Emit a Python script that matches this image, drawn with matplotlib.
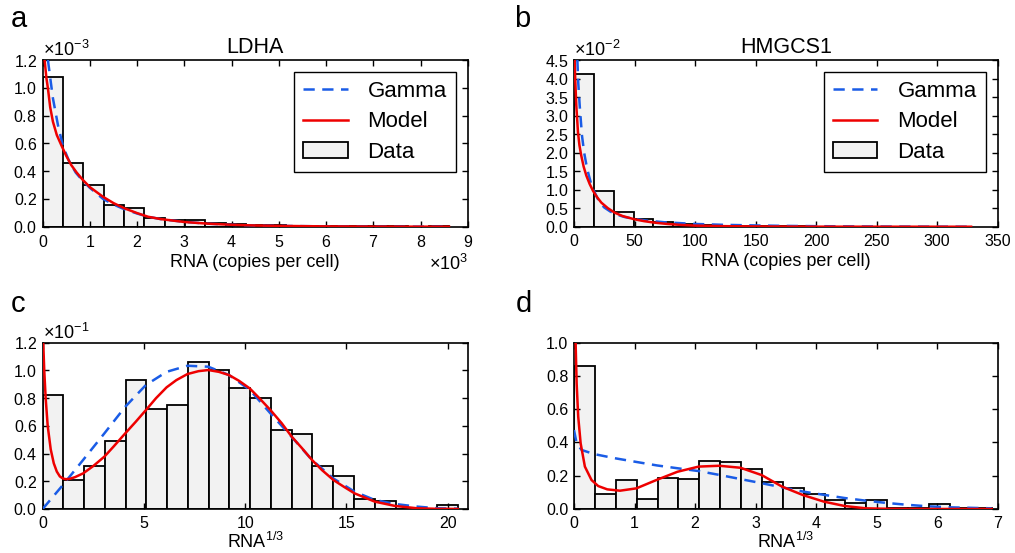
import numpy as np
import matplotlib
matplotlib.use('Agg')
import matplotlib.pyplot as plt

# ------------------------------ Style -----------------------------------
plt.rcParams['font.family'] = ['Liberation Sans', 'DejaVu Sans']
plt.rcParams['mathtext.fontset'] = 'custom'
plt.rcParams['mathtext.rm'] = 'Liberation Sans'
plt.rcParams['mathtext.default'] = 'regular'
plt.rcParams['axes.linewidth'] = 1.2
plt.rcParams['xtick.direction'] = 'in'
plt.rcParams['ytick.direction'] = 'in'
plt.rcParams['xtick.top'] = True
plt.rcParams['ytick.right'] = True
plt.rcParams['xtick.major.size'] = 4
plt.rcParams['ytick.major.size'] = 4
plt.rcParams['xtick.major.width'] = 1.0
plt.rcParams['ytick.major.width'] = 1.0
plt.rcParams['xtick.major.pad'] = 5
plt.rcParams['ytick.major.pad'] = 4
plt.rcParams['xtick.labelsize'] = 11.5
plt.rcParams['ytick.labelsize'] = 11.5

BAR_COLOR = '#f2f2f2'
GAMMA_COLOR = '#1a5ce6'
MODEL_COLOR = '#ee0000'

# ------------------------------ Data -----------------------------------
# a: LDHA, RNA copies per cell
ldha_edges = np.linspace(0, 8600, 21)
ldha_density = np.array([1.08, 0.46, 0.298, 0.158, 0.137, 0.06, 0.05, 0.05, 0.024, 0.02,
                         0.012, 0.01, 0.008, 0.004, 0.003, 0.002, 0.002, 0.002, 0.001, 0.002]) * 1e-3
ldha_gamma_x = [112, 150, 218, 324, 430, 550, 700, 850, 1000, 1280, 1500, 1735, 2000, 2230,
                2500, 3000, 3500, 4000, 4500, 5000, 6000, 7000, 8600]
ldha_gamma_y = np.array([1.2, 1.1, 0.924, 0.732, 0.58, 0.48, 0.39, 0.33, 0.28, 0.2, 0.16, 0.125,
                         0.095, 0.072, 0.055, 0.035, 0.022, 0.014, 0.009, 0.006, 0.0025, 0.001,
                         0.0002]) * 1e-3
ldha_model_x = [42, 80, 112, 160, 218, 300, 394, 500, 605, 720, 853, 1000, 1276, 1500, 1735,
                2000, 2230, 2500, 3000, 3500, 4000, 4500, 5000, 6000, 7000, 8600]
ldha_model_y = np.array([1.2, 1.07, 0.996, 0.86, 0.756, 0.66, 0.588, 0.51, 0.444, 0.39, 0.336,
                         0.285, 0.216, 0.17, 0.132, 0.098, 0.072, 0.055, 0.034, 0.022, 0.014,
                         0.009, 0.006, 0.0025, 0.001, 0.0002]) * 1e-3

# b: HMGCS1, RNA copies per cell
hmgcs1_edges = np.linspace(0, 328, 21)
hmgcs1_density = np.array([4.12, 0.97, 0.41, 0.2, 0.136, 0.065, 0.04, 0.03, 0.03, 0.02,
                           0.01, 0.01, 0.005, 0.005, 0.005, 0.003, 0.003, 0.003, 0.002, 0.003]) * 1e-2
hmgcs1_gamma_x = [2.8, 3.5, 4.7, 6.6, 8.5, 10.2, 12, 14, 16, 18.4, 21, 25, 30, 35, 42, 50, 60,
                  75, 100, 125, 150, 175, 200, 250, 300, 328]
hmgcs1_gamma_y = np.array([4.5, 3.9, 3.28, 2.46, 1.98, 1.68, 1.42, 1.18, 1.0, 0.84, 0.66, 0.52,
                           0.41, 0.33, 0.26, 0.21, 0.165, 0.12, 0.075, 0.05, 0.035, 0.022, 0.015,
                           0.006, 0.002, 0.001]) * 1e-2
hmgcs1_model_x = [0.55, 1.0, 1.9, 3.3, 4.5, 6.0, 8.0, 10.2, 13, 15.7, 19, 22.6, 28, 33.6, 40,
                  50, 58, 66.6, 77, 88, 100, 125, 150, 200, 250, 328]
hmgcs1_model_y = np.array([4.5, 4.0, 3.28, 2.55, 2.2, 1.92, 1.62, 1.38, 1.15, 0.97, 0.8, 0.65,
                           0.5, 0.38, 0.29, 0.2, 0.15, 0.11, 0.075, 0.05, 0.03, 0.015, 0.008,
                           0.002, 0.0005, 0.0]) * 1e-2

# c: LDHA, cube root of RNA
ldha_cr_edges = np.linspace(0, 20.5, 21)
ldha_cr_density = np.array([0.825, 0.207, 0.31, 0.49, 0.93, 0.72, 0.75, 1.06, 1.005, 0.875,
                            0.80, 0.57, 0.54, 0.31, 0.235, 0.075, 0.055, 0.0, 0.0, 0.03]) * 1e-1
ldha_cr_gamma_x = [0, 1, 2, 3.05, 4.08, 5.1, 6.12, 7.15, 8.18, 9.2, 10.23, 11.25, 12.3, 13.3,
                   14.36, 15.4, 16.4, 17.4, 18.5, 19.5, 20.5]
ldha_cr_gamma_y = np.array([0, 0.173, 0.354, 0.546, 0.738, 0.895, 0.99, 1.034, 1.027, 0.967,
                            0.86, 0.69, 0.52, 0.354, 0.22, 0.125, 0.065, 0.036, 0.017, 0.005,
                            0.002]) * 1e-1
ldha_cr_model_x = [0.03, 0.08, 0.15, 0.25, 0.4, 0.55, 0.7, 0.85, 1.0, 1.15, 1.35, 1.6, 2.0,
                   2.5, 3.05, 3.5, 4.08, 4.6, 5.1, 5.6, 6.12, 6.6, 7.15, 7.7, 8.18, 8.7, 9.2,
                   9.7, 10.23, 10.7, 11.25, 11.8, 12.3, 12.8, 13.3, 13.8, 14.36, 14.9, 15.4,
                   16.4, 17.4, 18.5, 19.5, 20.5]
ldha_cr_model_y = np.array([1.2, 1.0, 0.8, 0.6, 0.43, 0.33, 0.27, 0.235, 0.22, 0.215, 0.218,
                            0.23, 0.257, 0.31, 0.378, 0.45, 0.546, 0.63, 0.714, 0.8, 0.878,
                            0.93, 0.974, 0.995, 1.003, 0.99, 0.967, 0.925, 0.87, 0.8, 0.714,
                            0.62, 0.522, 0.44, 0.354, 0.28, 0.209, 0.158, 0.113, 0.053, 0.022,
                            0.005, 0.001, 0.0]) * 1e-1

# d: HMGCS1, cube root of RNA
hmgcs1_cr_edges = np.linspace(0, 6.9, 21)
hmgcs1_cr_density = [0.86, 0.088, 0.172, 0.06, 0.188, 0.18, 0.29, 0.28, 0.24, 0.165,
                     0.125, 0.09, 0.054, 0.034, 0.054, 0.005, 0.005, 0.028, 0.003, 0.005]
hmgcs1_cr_gamma_x = [0, 0.044, 0.126, 0.335, 0.68, 1.03, 1.37, 1.71, 2.06, 2.4, 2.75, 3.1,
                     3.44, 3.78, 4.13, 4.47, 4.82, 5.17, 5.51, 5.85, 6.2, 6.9]
hmgcs1_cr_gamma_y = [0.475, 0.395, 0.355, 0.33, 0.305, 0.283, 0.262, 0.245, 0.228, 0.205,
                     0.18, 0.155, 0.13, 0.105, 0.085, 0.066, 0.05, 0.036, 0.025, 0.016, 0.01,
                     0.004]
hmgcs1_cr_model_x = [0.027, 0.044, 0.07, 0.11, 0.18, 0.29, 0.4, 0.55, 0.76, 1.03, 1.36, 1.71,
                     2.06, 2.4, 2.75, 3.1, 3.44, 3.78, 4.13, 4.47, 4.82, 5.2, 6.0, 6.9]
hmgcs1_cr_model_y = [1.0, 0.755, 0.555, 0.395, 0.255, 0.174, 0.138, 0.118, 0.11, 0.124, 0.174,
                     0.224, 0.255, 0.26, 0.248, 0.204, 0.134, 0.084, 0.044, 0.018, 0.004,
                     0.001, 0.0, 0.0]


# ------------------------------ Plot helper -----------------------------------
def draw_panel(ax, edges, density, gx, gy, mx, my):
    edges = np.asarray(edges)
    bars = ax.bar(edges[:-1], density, width=np.diff(edges), align='edge',
                  color=BAR_COLOR, edgecolor='black', linewidth=1.3, label='Data', zorder=1)
    g, = ax.plot(gx, gy, color=GAMMA_COLOR, lw=1.8, linestyle=(0, (4.5, 3)), label='Gamma', zorder=3)
    m, = ax.plot(mx, my, color=MODEL_COLOR, lw=1.8, label='Model', zorder=4)
    return g, m, bars


def add_legend(ax, handles):
    ax.legend(handles=list(handles), labels=['Gamma', 'Model', 'Data'], loc='upper right',
              fontsize=16, fancybox=False, edgecolor='black', framealpha=1,
              handlelength=2.0, handletextpad=0.9, labelspacing=0.42, borderpad=0.4,
              borderaxespad=0.55)


fig = plt.figure(figsize=(10.15, 5.53), dpi=100)
ax_a = fig.add_axes([0.042, 0.590, 0.419, 0.3015])
ax_b = fig.add_axes([0.5655, 0.590, 0.4175, 0.3015])
ax_c = fig.add_axes([0.042, 0.0796, 0.419, 0.3006])
ax_d = fig.add_axes([0.5655, 0.0796, 0.4175, 0.3006])

# a
handles = draw_panel(ax_a, ldha_edges, ldha_density, ldha_gamma_x, ldha_gamma_y,
                     ldha_model_x, ldha_model_y)
ax_a.set_xlim(0, 9000)
ax_a.set_ylim(0, 1.2e-3)
ax_a.set_xticks(np.arange(0, 9001, 1000))
ax_a.set_yticks(np.arange(0, 1.21e-3, 0.2e-3))
ax_a.set_title('LDHA', fontsize=15.5, pad=5)
ax_a.set_xlabel('RNA (copies per cell)', fontsize=13, labelpad=3)
ax_a.ticklabel_format(style='sci', scilimits=(0, 0), useMathText=True)
add_legend(ax_a, handles)

# b
handles = draw_panel(ax_b, hmgcs1_edges, hmgcs1_density, hmgcs1_gamma_x, hmgcs1_gamma_y,
                     hmgcs1_model_x, hmgcs1_model_y)
ax_b.set_xlim(0, 350)
ax_b.set_ylim(0, 4.5e-2)
ax_b.set_xticks(np.arange(0, 351, 50))
ax_b.set_yticks(np.arange(0, 4.51e-2, 0.5e-2))
ax_b.set_title('HMGCS1', fontsize=15.5, pad=5)
ax_b.set_xlabel('RNA (copies per cell)', fontsize=13, labelpad=3)
ax_b.ticklabel_format(axis='y', style='sci', scilimits=(0, 0), useMathText=True)
add_legend(ax_b, handles)

# c
draw_panel(ax_c, ldha_cr_edges, ldha_cr_density, ldha_cr_gamma_x, ldha_cr_gamma_y,
           ldha_cr_model_x, ldha_cr_model_y)
ax_c.set_xlim(0, 21)
ax_c.set_ylim(0, 1.2e-1)
ax_c.set_xticks(np.arange(0, 21, 5))
ax_c.set_yticks(np.arange(0, 1.21e-1, 0.2e-1))
ax_c.set_xlabel('RNA$^{1/3}$', fontsize=13, labelpad=1)
ax_c.ticklabel_format(axis='y', style='sci', scilimits=(0, 0), useMathText=True)

# d
draw_panel(ax_d, hmgcs1_cr_edges, hmgcs1_cr_density, hmgcs1_cr_gamma_x, hmgcs1_cr_gamma_y,
           hmgcs1_cr_model_x, hmgcs1_cr_model_y)
ax_d.set_xlim(0, 7)
ax_d.set_ylim(0, 1.0)
ax_d.set_xticks(np.arange(0, 8, 1))
ax_d.set_yticks(np.arange(0, 1.01, 0.2))
ax_d.yaxis.set_major_formatter(plt.FormatStrFormatter('%.1f'))
ax_d.set_xlabel('RNA$^{1/3}$', fontsize=13, labelpad=1)

for ax in (ax_a, ax_b, ax_c, ax_d):
    ax.xaxis.get_offset_text().set_fontsize(13)
    ax.yaxis.get_offset_text().set_fontsize(13)

# panel letters
fig.text(0.011, 0.9656, 'a', fontsize=21, va='center', ha='left')
fig.text(0.506, 0.9656, 'b', fontsize=21, va='center', ha='left')
fig.text(0.011, 0.450, 'c', fontsize=21, va='center', ha='left')
fig.text(0.508, 0.450, 'd', fontsize=21, va='center', ha='left')

fig.savefig('out.png', dpi=100)
